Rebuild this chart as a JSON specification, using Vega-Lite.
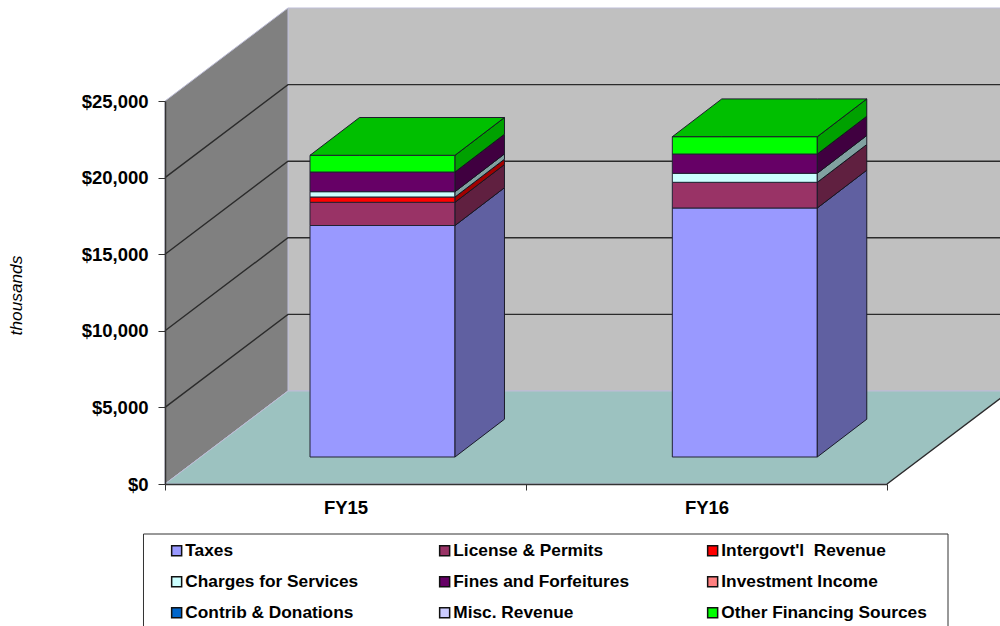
{
"$schema":"https://vega.github.io/schema/vega-lite/v6.json",
"width":722,"height":383,
"autosize":{"type":"none"},
"padding":{"left":165,"top":101,"right":113,"bottom":142},
"background":"white",
"config":{"view":{"stroke":null},"font":"Liberation Sans"},
"datasets":{
"planes":[
{"plane":"back","pos":0.3407,"low":6070,"high":31070},
{"plane":"back","pos":2.341,"low":6070,"high":31070},
{"plane":"left","pos":0,"low":0,"high":25000},
{"plane":"left","pos":0.3407,"low":6070,"high":31070},
{"plane":"floor","pos":0,"low":0,"high":0},
{"plane":"floor","pos":0.3407,"low":0,"high":6070},
{"plane":"floor","pos":2,"low":0,"high":6070},
{"plane":"floor","pos":2.341,"low":6070,"high":6070}
],
"grid":[
{"g":5000,"pos":0,"level":5000},{"g":5000,"pos":0.3407,"level":11070},{"g":5000,"pos":2.341,"level":11070},
{"g":10000,"pos":0,"level":10000},{"g":10000,"pos":0.3407,"level":16070},{"g":10000,"pos":2.341,"level":16070},
{"g":15000,"pos":0,"level":15000},{"g":15000,"pos":0.3407,"level":21070},{"g":15000,"pos":2.341,"level":21070},
{"g":20000,"pos":0,"level":20000},{"g":20000,"pos":0.3407,"level":26070},{"g":20000,"pos":2.341,"level":26070},
{"g":0,"pos":2,"level":0},{"g":0,"pos":2.341,"level":6070}
],
"box":[{"a":-0.0596,"b":2.169,"low":-9500,"high":-3264}],
"faces":[
{"bar":"FY15","series":"Taxes","face":"front","pos":0.4017,"low":1762,"high":16873},
{"bar":"FY15","series":"Taxes","face":"front","pos":0.8033,"low":1762,"high":16873},
{"bar":"FY15","series":"License & Permits","face":"front","pos":0.4017,"low":16873,"high":18388},
{"bar":"FY15","series":"License & Permits","face":"front","pos":0.8033,"low":16873,"high":18388},
{"bar":"FY15","series":"Intergovt'l\u00a0 Revenue","face":"front","pos":0.4017,"low":18388,"high":18734},
{"bar":"FY15","series":"Intergovt'l\u00a0 Revenue","face":"front","pos":0.8033,"low":18388,"high":18734},
{"bar":"FY15","series":"Charges for Services","face":"front","pos":0.4017,"low":18734,"high":19080},
{"bar":"FY15","series":"Charges for Services","face":"front","pos":0.8033,"low":18734,"high":19080},
{"bar":"FY15","series":"Fines and Forfeitures","face":"front","pos":0.4017,"low":19080,"high":20365},
{"bar":"FY15","series":"Fines and Forfeitures","face":"front","pos":0.8033,"low":19080,"high":20365},
{"bar":"FY15","series":"Other Financing Sources","face":"front","pos":0.4017,"low":20365,"high":21456},
{"bar":"FY15","series":"Other Financing Sources","face":"front","pos":0.8033,"low":20365,"high":21456},
{"bar":"FY15","series":"Taxes","face":"side","pos":0.8033,"low":1762,"high":16873},
{"bar":"FY15","series":"Taxes","face":"side","pos":0.9404,"low":4229,"high":19340},
{"bar":"FY15","series":"License & Permits","face":"side","pos":0.8033,"low":16873,"high":18388},
{"bar":"FY15","series":"License & Permits","face":"side","pos":0.9404,"low":19340,"high":20855},
{"bar":"FY15","series":"Intergovt'l\u00a0 Revenue","face":"side","pos":0.8033,"low":18388,"high":18734},
{"bar":"FY15","series":"Intergovt'l\u00a0 Revenue","face":"side","pos":0.9404,"low":20855,"high":21201},
{"bar":"FY15","series":"Charges for Services","face":"side","pos":0.8033,"low":18734,"high":19080},
{"bar":"FY15","series":"Charges for Services","face":"side","pos":0.9404,"low":21201,"high":21547},
{"bar":"FY15","series":"Fines and Forfeitures","face":"side","pos":0.8033,"low":19080,"high":20365},
{"bar":"FY15","series":"Fines and Forfeitures","face":"side","pos":0.9404,"low":21547,"high":22832},
{"bar":"FY15","series":"Other Financing Sources","face":"side","pos":0.8033,"low":20365,"high":21456},
{"bar":"FY15","series":"Other Financing Sources","face":"side","pos":0.9404,"low":22832,"high":23923},
{"bar":"FY15","series":"Other Financing Sources","face":"top","pos":0.4017,"low":21456,"high":21456},
{"bar":"FY15","series":"Other Financing Sources","face":"top","pos":0.5388,"low":21456,"high":23923},
{"bar":"FY15","series":"Other Financing Sources","face":"top","pos":0.8033,"low":21456,"high":23923},
{"bar":"FY15","series":"Other Financing Sources","face":"top","pos":0.9404,"low":23923,"high":23923},
{"bar":"FY16","series":"Taxes","face":"front","pos":1.4053,"low":1762,"high":18016},
{"bar":"FY16","series":"Taxes","face":"front","pos":1.8069,"low":1762,"high":18016},
{"bar":"FY16","series":"License & Permits","face":"front","pos":1.4053,"low":18016,"high":19693},
{"bar":"FY16","series":"License & Permits","face":"front","pos":1.8069,"low":18016,"high":19693},
{"bar":"FY16","series":"Charges for Services","face":"front","pos":1.4053,"low":19693,"high":20281},
{"bar":"FY16","series":"Charges for Services","face":"front","pos":1.8069,"low":19693,"high":20281},
{"bar":"FY16","series":"Fines and Forfeitures","face":"front","pos":1.4053,"low":20281,"high":21540},
{"bar":"FY16","series":"Fines and Forfeitures","face":"front","pos":1.8069,"low":20281,"high":21540},
{"bar":"FY16","series":"Other Financing Sources","face":"front","pos":1.4053,"low":21540,"high":22670},
{"bar":"FY16","series":"Other Financing Sources","face":"front","pos":1.8069,"low":21540,"high":22670},
{"bar":"FY16","series":"Taxes","face":"side","pos":1.8069,"low":1762,"high":18016},
{"bar":"FY16","series":"Taxes","face":"side","pos":1.944,"low":4229,"high":20483},
{"bar":"FY16","series":"License & Permits","face":"side","pos":1.8069,"low":18016,"high":19693},
{"bar":"FY16","series":"License & Permits","face":"side","pos":1.944,"low":20483,"high":22160},
{"bar":"FY16","series":"Charges for Services","face":"side","pos":1.8069,"low":19693,"high":20281},
{"bar":"FY16","series":"Charges for Services","face":"side","pos":1.944,"low":22160,"high":22748},
{"bar":"FY16","series":"Fines and Forfeitures","face":"side","pos":1.8069,"low":20281,"high":21540},
{"bar":"FY16","series":"Fines and Forfeitures","face":"side","pos":1.944,"low":22748,"high":24007},
{"bar":"FY16","series":"Other Financing Sources","face":"side","pos":1.8069,"low":21540,"high":22670},
{"bar":"FY16","series":"Other Financing Sources","face":"side","pos":1.944,"low":24007,"high":25137},
{"bar":"FY16","series":"Other Financing Sources","face":"top","pos":1.4053,"low":22670,"high":22670},
{"bar":"FY16","series":"Other Financing Sources","face":"top","pos":1.5424,"low":22670,"high":25137},
{"bar":"FY16","series":"Other Financing Sources","face":"top","pos":1.8069,"low":22670,"high":25137},
{"bar":"FY16","series":"Other Financing Sources","face":"top","pos":1.944,"low":25137,"high":25137}
]
},
"layer":[
{"data":{"name":"planes"},"transform":[{"filter":"datum.plane==='back'"}],
 "mark":{"type":"area","fill":"#C0C0C0","stroke":"#BDBDD6","strokeWidth":1},
 "encoding":{
  "x":{"field":"pos","type":"quantitative","scale":{"domain":[0,2],"nice":false,"zero":false},
   "axis":{"values":[0,0.5,1,1.5,2],"labelExpr":"datum.value==0.5?'FY15':(datum.value==1.5?'FY16':'')","tickOpacity":{"condition":{"test":"datum.value==0.5||datum.value==1.5","value":0},"value":1},"title":null,"grid":false,"labelFont":"Liberation Sans","labelFontSize":18.5,"labelFontWeight":"bold","labelColor":"#000000","labelPadding":8,"labelOverlap":false,"labelBound":false,"labelFlush":false,"domainColor":"#333333","domainWidth":1.5,"tickColor":"#333333","tickSize":6,"zindex":1}},
  "y":{"field":"low","type":"quantitative","scale":{"domain":[0,25000],"nice":false,"zero":false},
   "axis":{"values":[0,5000,10000,15000,20000,25000],"format":"$,.0f","grid":false,"title":"thousands","titleFont":"Liberation Sans","titleFontSize":17.3,"titleFontStyle":"italic","titleFontWeight":"normal","titleColor":"#000000","titleX":-140,"titleY":194,"titleAngle":-90,"labelFont":"Liberation Sans","labelFontSize":18.5,"labelFontWeight":"bold","labelColor":"#000000","labelPadding":10,"domainColor":"#333333","domainWidth":1.5,"tickColor":"#333333","tickSize":7,"zindex":1}},
  "y2":{"field":"high"}}},
{"data":{"name":"planes"},"transform":[{"filter":"datum.plane==='left'"}],
 "mark":{"type":"area","fill":"#808080","stroke":"#BDBDD6","strokeWidth":1},
 "encoding":{"x":{"field":"pos","type":"quantitative"},"y":{"field":"low","type":"quantitative"},"y2":{"field":"high"}}},
{"data":{"name":"planes"},"transform":[{"filter":"datum.plane==='floor'"}],
 "mark":{"type":"area","fill":"#9CC2C0","stroke":"#BDBDD6","strokeWidth":1},
 "encoding":{"x":{"field":"pos","type":"quantitative"},"y":{"field":"low","type":"quantitative"},"y2":{"field":"high"}}},
{"data":{"name":"grid"},
 "mark":{"type":"line","color":"#2b2b2b","strokeWidth":1.4,"interpolate":"linear"},
 "encoding":{"x":{"field":"pos","type":"quantitative"},"y":{"field":"level","type":"quantitative"},"detail":{"field":"g","type":"nominal"}}},
{"data":{"name":"faces"},
 "mark":{"type":"area","stroke":"#222233","strokeWidth":1,"opacity":1},
 "encoding":{
  "x":{"field":"pos","type":"quantitative"},
  "y":{"field":"low","type":"quantitative"},
  "y2":{"field":"high"},
  "detail":[{"field":"bar","type":"nominal"},{"field":"face","type":"nominal"}],
  "color":{"field":"series","type":"nominal",
   "scale":{"domain":["Taxes","Charges for Services","Contrib & Donations","License & Permits","Fines and Forfeitures","Misc. Revenue","Intergovt'l\u00a0 Revenue","Investment Income","Other Financing Sources"],
    "range":["#9999FF","#CCFFFF","#0066CC","#993366","#660066","#CCCCFF","#FF0000","#FF8080","#00FF00"]},
   "sort":null,
   "legend":{"orient":"none","legendX":3,"legendY":441,"columns":3,"title":null,"symbolType":"square","symbolSize":100,"symbolStrokeColor":"#111111","symbolStrokeWidth":1.5,"symbolOpacity":1,"labelFont":"Liberation Sans","labelFontSize":17.3,"labelFontWeight":"bold","labelColor":"#000000","labelOffset":0,"labelLimit":400,"gridAlign":"all","rowPadding":13,"columnPadding":45,"padding":0,"zindex":1}}}},
{"data":{"name":"faces"},"transform":[{"filter":"datum.face==='side'"}],
 "mark":{"type":"area","fill":"#000000","fillOpacity":0.37},
 "encoding":{"x":{"field":"pos","type":"quantitative"},"y":{"field":"low","type":"quantitative"},"y2":{"field":"high"},"detail":[{"field":"bar","type":"nominal"},{"field":"series","type":"nominal"}]}},
{"data":{"name":"faces"},"transform":[{"filter":"datum.face==='top'"}],
 "mark":{"type":"area","fill":"#000000","fillOpacity":0.25},
 "encoding":{"x":{"field":"pos","type":"quantitative"},"y":{"field":"low","type":"quantitative"},"y2":{"field":"high"},"detail":[{"field":"bar","type":"nominal"},{"field":"series","type":"nominal"}]}},
{"data":{"name":"box"},
 "mark":{"type":"rect","fillOpacity":0,"stroke":"#333333","strokeWidth":1},
 "encoding":{"x":{"field":"a","type":"quantitative"},"x2":{"field":"b"},"y":{"field":"low","type":"quantitative"},"y2":{"field":"high"}}}
]
}
